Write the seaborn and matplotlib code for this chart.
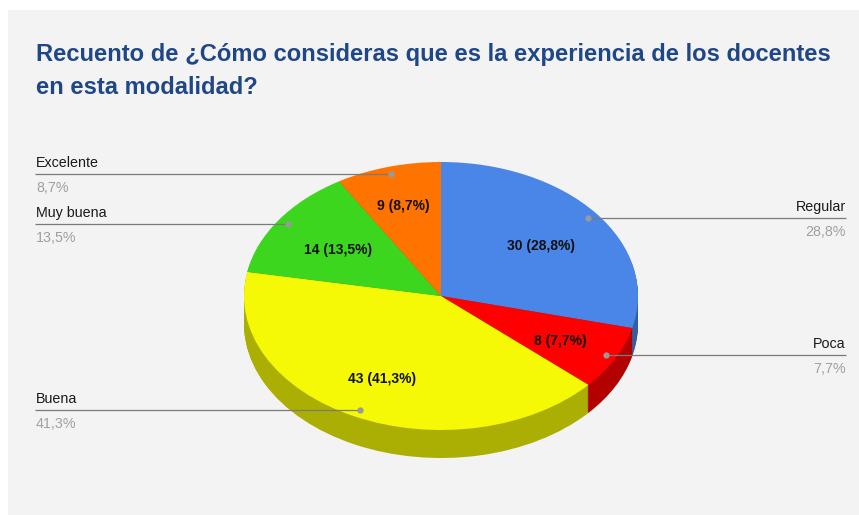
import numpy as np
import matplotlib
matplotlib.use("Agg")
import matplotlib.pyplot as plt
import seaborn as sns

categories = ["Regular", "Poca", "Buena", "Muy buena", "Excelente"]
counts = [30, 8, 43, 14, 9]
colors = ["#4a86e8", "#ff0000", "#f5f905", "#3cd61e", "#ff7300"]
title = "Recuento de ¿Cómo consideras que es la experiencia de los docentes\nen esta modalidad?"

sns.set_theme(style="white")
plt.rcParams["font.family"] = ["Liberation Sans", "DejaVu Sans"]

W, H = 859, 515
fig = plt.figure(figsize=(W / 100, H / 100), dpi=100, facecolor="white")

# overlay in pixel coordinates for the panel, title and callouts
bg = fig.add_axes([0, 0, 1, 1], zorder=0)
bg.set_xlim(0, W)
bg.set_ylim(H, 0)
bg.axis("off")
bg.add_patch(plt.Rectangle((8, 10), W - 8, H - 10, color="#f3f3f3", lw=0))

# pie is an ellipse: centre, radii and thickness in pixels
cx, cy, rx, ry, depth = 441, 296, 197, 134, 28
pie_ax = fig.add_axes([(cx - rx) / W, 1 - (cy + ry + depth) / H, 2 * rx / W, (2 * ry + depth) / H], zorder=1)


def fmt(pct):
    n = int(round(pct * sum(counts) / 100))
    return f"{n} ({pct:.1f}%)".replace(".", ",")


# side wall: darker copies of the pie stacked downwards
dark = [tuple(v * 0.7 for v in c) for c in sns.color_palette(colors)]
for k in range(depth, 0, -1):
    pie_ax.pie(counts, colors=dark, startangle=90, counterclock=False, center=(0, -k / ry), frame=False,
               wedgeprops={"lw": 0, "clip_on": False})

wedges, _, autotexts = pie_ax.pie(
    counts, colors=colors, startangle=90, counterclock=False, frame=False,
    autopct=fmt, pctdistance=0.66,
    textprops={"fontsize": 10, "fontweight": "bold", "color": "#111111"},
    wedgeprops={"lw": 0, "clip_on": False},
)
pie_ax.set_aspect("auto")
pie_ax.set_xlim(-1, 1)
pie_ax.set_ylim(-1 - depth / ry, 1)

# small pixel nudges so the inside labels sit where the original puts them
nudges = [(-2, 5), (4, 4), (-2, 3), (4, 4), (-3, -5)]
for t, (nx, ny) in zip(autotexts, nudges):
    x, y = t.get_position()
    t.set_position((x + nx / rx, y - ny / ry))

# callouts on top of the pie
top = fig.add_axes([0, 0, 1, 1], zorder=2)
top.set_xlim(0, W)
top.set_ylim(H, 0)
top.axis("off")
top.patch.set_alpha(0)

top.text(36, 71, title, fontsize=17.1, fontweight="bold", color="#1f4788", va="center", ha="left", linespacing=1.52)

for name, n, w in zip(categories, counts, wedges):
    mid = np.deg2rad((w.theta1 + w.theta2) / 2)
    dx = cx + 0.945 * rx * np.cos(mid)
    dy = cy - 0.945 * ry * np.sin(mid)
    pct = f"{100 * n / sum(counts):.1f}%".replace(".", ",")
    if dx < cx:
        x0, ha = 35, "left"
    else:
        x0, ha = 846, "right"
    top.plot([x0, dx], [dy, dy], color="#7a7a7a", lw=0.9, solid_capstyle="butt")
    top.plot(dx, dy, "o", ms=4.5, color="#999999", mew=0)
    top.text(x0 + (1 if ha == "left" else 0), dy - 4, name, fontsize=10.3, color="#1a1a1a", ha=ha, va="bottom")
    top.text(x0 + (1 if ha == "left" else 0), dy + 7, pct, fontsize=10.3, color="#a0a0a0", ha=ha, va="top")

fig.savefig("out.png", dpi=100, facecolor="white")
